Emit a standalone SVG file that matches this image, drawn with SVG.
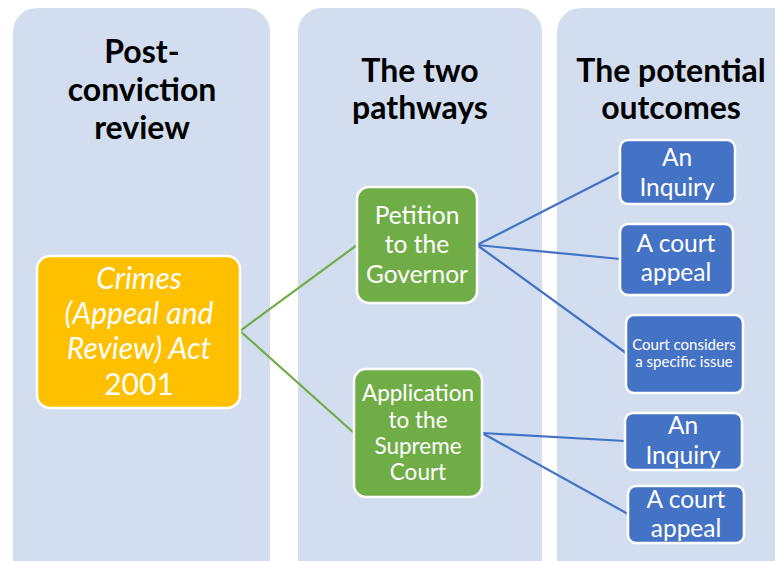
<svg xmlns="http://www.w3.org/2000/svg" width="775" height="561" viewBox="0 0 775 561">
  <style>
    .col { fill: #D2DEEF; }
    .head { font-family: Lato, "Open Sans", sans-serif; font-weight: bold; font-size: 32px; fill: #000; text-anchor: middle; }
    .lbl { font-family: Lato, "Open Sans", sans-serif; fill: #fff; text-anchor: middle; }
    .act { fill: #FFC000; stroke: #fff; stroke-width: 2.5; }
    .path { fill: #70AD47; stroke: #fff; stroke-width: 2.5; }
    .out { fill: #4472C4; stroke: #fff; stroke-width: 2.5; }
    .gl { stroke: #70AD47; stroke-width: 2.2; fill: none; }
    .bl { stroke: #4472C4; stroke-width: 2.2; fill: none; }
  </style>

  <rect width="775" height="561" fill="#fff"/>

  <!-- column panels -->
  <g id="columns">
    <rect class="col" x="13" y="8" width="257" height="574" rx="24"/>
    <rect class="col" x="298" y="8" width="244" height="574" rx="24"/>
    <rect class="col" x="557" y="8" width="250" height="574" rx="24"/>
  </g>

  <!-- column headings -->
  <g id="headings">
    <text class="head" x="142" y="63" font-size="31">Post-</text>
    <text class="head" x="142" y="101" font-size="31">conviction</text>
    <text class="head" x="142" y="139" font-size="31">review</text>
    <text class="head" x="420" y="82">The two</text>
    <text class="head" x="420" y="119">pathways</text>
    <text class="head" x="671" y="82">The potential</text>
    <text class="head" x="671" y="119">outcomes</text>
  </g>

  <!-- connectors -->
  <g id="connectors">
    <line class="gl" x1="240" y1="331" x2="357" y2="245"/>
    <line class="gl" x1="240" y1="331" x2="354" y2="433"/>
    <line class="bl" x1="477" y1="245" x2="620" y2="172"/>
    <line class="bl" x1="477" y1="245" x2="620" y2="259"/>
    <line class="bl" x1="477" y1="245" x2="626" y2="353"/>
    <line class="bl" x1="482" y1="433" x2="625" y2="441"/>
    <line class="bl" x1="482" y1="433" x2="628" y2="514"/>
  </g>

  <g id="act">
    <rect class="act" x="37" y="256" width="203" height="152" rx="13"/>
    <text class="lbl" x="139" y="289" font-size="30" font-style="italic">Crimes</text>
    <text class="lbl" x="139" y="324" font-size="30" font-style="italic">(Appeal and</text>
    <text class="lbl" x="139" y="359" font-size="30" font-style="italic">Review) Act</text>
    <text class="lbl" x="139" y="395" font-size="30">2001</text>
  </g>

  <g id="petition">
    <rect class="path" x="357" y="187" width="120" height="116" rx="12"/>
    <text class="lbl" x="417" y="224" font-size="24.5">Petition</text>
    <text class="lbl" x="417" y="253" font-size="24.5">to the</text>
    <text class="lbl" x="417" y="283" font-size="24.5">Governor</text>
  </g>

  <g id="application">
    <rect class="path" x="354" y="369" width="128" height="128" rx="12"/>
    <text class="lbl" x="418" y="401" font-size="22.5">Application</text>
    <text class="lbl" x="418" y="428" font-size="22.5">to the</text>
    <text class="lbl" x="418" y="454" font-size="22.5">Supreme</text>
    <text class="lbl" x="418" y="480" font-size="22.5">Court</text>
  </g>

  <g id="gov-inquiry">
    <rect class="out" x="620" y="140" width="115" height="64" rx="8"/>
    <text class="lbl" x="677" y="166" font-size="24.5">An</text>
    <text class="lbl" x="677" y="196" font-size="24.5">Inquiry</text>
  </g>

  <g id="gov-appeal">
    <rect class="out" x="620" y="224" width="113" height="71" rx="8"/>
    <text class="lbl" x="676" y="252" font-size="24.5">A court</text>
    <text class="lbl" x="676" y="281" font-size="24.5">appeal</text>
  </g>

  <g id="gov-issue">
    <rect class="out" x="626" y="315" width="117" height="78" rx="8"/>
    <text class="lbl" x="684" y="350" font-size="15">Court considers</text>
    <text class="lbl" x="684" y="367" font-size="15">a specific issue</text>
  </g>

  <g id="court-inquiry">
    <rect class="out" x="625" y="413" width="117" height="57" rx="8"/>
    <text class="lbl" x="683" y="434" font-size="24.5">An</text>
    <text class="lbl" x="683" y="464" font-size="24.5">Inquiry</text>
  </g>

  <g id="court-appeal">
    <rect class="out" x="628" y="486" width="116" height="57" rx="8"/>
    <text class="lbl" x="686" y="508" font-size="24.5">A court</text>
    <text class="lbl" x="686" y="537" font-size="24.5">appeal</text>
  </g>
</svg>
